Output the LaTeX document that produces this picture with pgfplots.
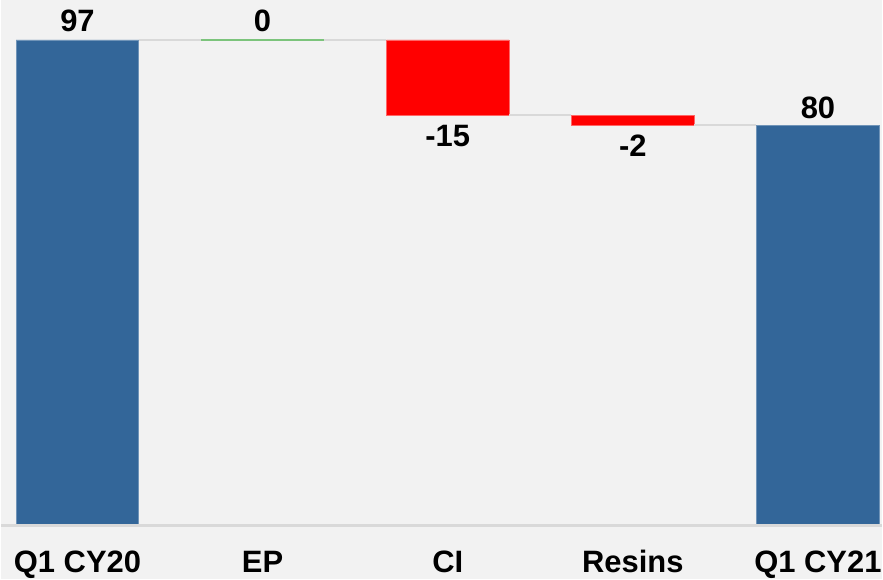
\documentclass[border=0pt]{standalone}
\usepackage{fontspec}
\setmainfont{Liberation Sans}
\usepackage{pgfplots}
\pgfplotsset{compat=1.18}
\definecolor{bggray}{HTML}{F2F2F2}
\definecolor{barblue}{HTML}{336699}
\definecolor{barred}{HTML}{FF0000}
\definecolor{zerogreen}{HTML}{7CC47C}
\definecolor{linegray}{HTML}{D9D9D9}

\pgfplotsset{
  wfbase/.style={
    scale only axis,
    width=441.5pt, height=290.5pt,
    xmin=-0.412, xmax=4.345,
    ymin=-10.76, ymax=104.98,
    axis line style={draw=none},
    xtick=\empty, ytick=\empty,
    clip=false,
  },
}

\begin{document}
\begin{tikzpicture}
% bars
\begin{axis}[
  wfbase,
  axis background/.style={fill=bggray},
  ybar stacked,
  bar width=0.663,
]
% invisible base of the floating bars
\addplot[draw=none, fill=none] coordinates {(0,0) (1,97) (2,82) (3,80) (4,0)};
% totals
\addplot[draw=barblue!70!white, line width=0.4pt, fill=barblue] coordinates {(0,97) (1,0) (2,0) (3,0) (4,80)};
% decreases
\addplot[draw=barred!60!white, line width=0.4pt, fill=barred] coordinates {(0,0) (1,0) (2,15) (3,2) (4,0)};
\end{axis}

% connectors, baseline and labels
\begin{axis}[wfbase]
\addplot[linegray, line width=1.2pt] coordinates {(-0.412,0) (4.345,0)};
\addplot[linegray, line width=1pt] coordinates {(0.332,97) (0.668,97)};
\addplot[linegray, line width=1pt] coordinates {(1.332,97) (1.668,97)};
\addplot[linegray, line width=1pt] coordinates {(2.332,82) (2.668,82)};
\addplot[linegray, line width=1pt] coordinates {(3.332,80) (3.668,80)};
\addplot[zerogreen, line width=0.6pt] coordinates {(0.668,97) (1.332,97)};

\tikzset{vl/.style={anchor=base, font=\fontsize{15.5}{18}\selectfont\bfseries, inner sep=0pt}}
\node[vl] at (axis cs:0,98.6) {97};
\node[vl] at (axis cs:1,98.6) {0};
\node[vl] at (axis cs:2,75.7) {-15};
\node[vl] at (axis cs:3,73.7) {-2};
\node[vl] at (axis cs:4,81.3) {80};

\node[vl] at (axis cs:0,-9.36) {Q1 CY20};
\node[vl] at (axis cs:1,-9.36) {EP};
\node[vl] at (axis cs:2,-9.36) {CI};
\node[vl] at (axis cs:3,-9.36) {Resins};
\node[vl] at (axis cs:4,-9.36) {Q1 CY21};
\end{axis}
\end{tikzpicture}
\end{document}
